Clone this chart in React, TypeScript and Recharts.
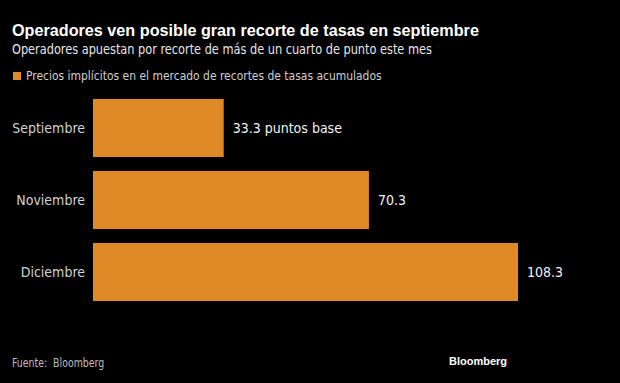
import React from 'react';
import { BarChart, Bar, XAxis, YAxis, LabelList } from 'recharts';

const months = ['Septiembre', 'Noviembre', 'Diciembre'];
const cuts = [33.3, 70.3, 108.3];
const valueLabels = ['33.3 puntos base', '70.3', '108.3'];

const data = months.map((m, i) => ({ month: m, value: cuts[i], label: valueLabels[i] }));

const FONT = '"Liberation Sans Narrow", "DejaVu Sans Condensed", "Roboto Condensed", "Liberation Sans", sans-serif';
const BOLD_FONT = '"Liberation Sans", Arial, sans-serif';
const ORANGE = '#df8a27';

const text = (left: number, top: number, size: number, color: string, sx: number, extra: React.CSSProperties = {}) =>
  ({
    position: 'absolute',
    left,
    top,
    fontSize: size,
    color,
    whiteSpace: 'nowrap',
    transform: `scaleX(${sx})`,
    transformOrigin: 'left top',
    ...extra,
  } as React.CSSProperties);

const App: React.FC = () => {
  return (
    <div
      style={{
        position: 'absolute',
        left: 0,
        top: 0,
        width: 620,
        height: 383,
        background: '#000',
        fontFamily: FONT,
        overflow: 'hidden',
      }}
    >
      <div style={text(12, 20.5, 16.2, '#fff', 1, { fontWeight: 'bold', fontFamily: BOLD_FONT })}>
        Operadores ven posible gran recorte de tasas en septiembre
      </div>
      <div style={text(12, 41, 14, '#e6e6e6', 0.9)}>
        Operadores apuestan por recorte de más de un cuarto de punto este mes
      </div>
      <div style={{ position: 'absolute', left: 13, top: 72, width: 8, height: 8, background: ORANGE }} />
      <div style={text(26, 67.5, 13, '#cfcfcf', 0.92)}>
        Precios implícitos en el mercado de recortes de tasas acumulados
      </div>

      <div style={{ position: 'absolute', left: 0, top: 0 }}>
        <BarChart
          width={620}
          height={310}
          data={data}
          layout="vertical"
          margin={{ top: 92, right: 56, left: 0, bottom: 2 }}
          barCategoryGap={7}
        >
          <XAxis type="number" domain={[0, 120]} hide />
          <YAxis
            type="category"
            dataKey="month"
            width={93}
            tickLine={false}
            axisLine={false}
            tickSize={0}
            tickMargin={8}
            tick={{ fill: '#d0d0d0', fontSize: 14, fontFamily: FONT }}
          />
          <Bar dataKey="value" fill={ORANGE} isAnimationActive={false}>
            <LabelList dataKey="label" position="right" offset={9} fill="#f2f2f2" fontSize={14} fontFamily={FONT} />
          </Bar>
        </BarChart>
      </div>

      <div style={text(12, 355.5, 12, '#bdbdbd', 0.87)}>Fuente:&nbsp; Bloomberg</div>
      <div
        style={{
          position: 'absolute',
          right: 113,
          top: 354.5,
          color: '#fff',
          fontSize: 11,
          fontWeight: 'bold',
          fontFamily: BOLD_FONT,
          whiteSpace: 'nowrap',
        }}
      >
        Bloomberg
      </div>
    </div>
  );
};

export default App;
